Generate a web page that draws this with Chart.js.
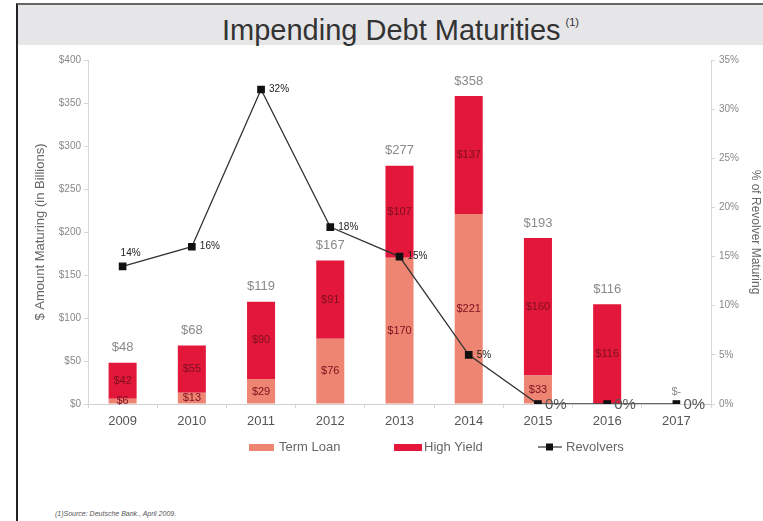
<!DOCTYPE html>
<html>
<head>
<meta charset="utf-8">
<title>Impending Debt Maturities</title>
<script src="https://cdn.jsdelivr.net/npm/chart.js@4.4.0/dist/chart.umd.min.js"></script>
<style>
  body { margin: 0; width: 763px; height: 521px; background: #fff; position: relative; overflow: hidden;
         font-family: "Liberation Sans", Arial, sans-serif; }
  #frame { position: absolute; left: 16px; top: 3px; right: 0; bottom: 0;
           border-left: 2px solid #222; border-top: 2px solid #666; }
  #head { position: absolute; left: 18px; top: 5px; right: 0; height: 40px; background: #e6e6e8;
          box-sizing: border-box; padding-left: 20px;
          text-align: center; color: #333; font-size: 29px; line-height: 34px; }
  #head sup { font-size: 11px; vertical-align: 14px; margin-left: 5px; }
  #note { position: absolute; left: 55px; top: 510px; font-size: 7px; font-style: italic; color: #555; }
  #wrap { position: absolute; left: 0; top: 0; width: 763px; height: 521px; }
</style>
</head>
<body>
<div id="frame"></div>
<div id="head">Impending Debt Maturities<sup>(1)</sup></div>
<div id="note">(1)Source: Deutsche Bank., April 2009.</div>
<div id="wrap"><canvas id="debtChart" width="763" height="521"></canvas></div>
<script>
// maturities by year, $ billions
const years = ['2009', '2010', '2011', '2012', '2013', '2014', '2015', '2016', '2017'];
const termLoan = [6, 13, 29, 76, 170, 221, 33, 0, 0];
const highYield = [42, 55, 90, 91, 107, 137, 160, 116, 0];
// share of revolvers maturing, %
const revolverPct = [14, 16, 32, 18, 15, 5, 0, 0, 0];

const TERM_COLOR = '#ee8572';
const HY_COLOR = '#e3173a';

// $ totals above bars, $ per segment inside, % beside revolver points
const labelPlugin = {
  id: 'debtLabels',
  afterDatasetsDraw(chart) {
    const ctx = chart.ctx;
    const tl = chart.getDatasetMeta(0).data;
    const hy = chart.getDatasetMeta(1).data;
    const pts = chart.getDatasetMeta(2).data;
    const y = chart.scales.y;
    ctx.save();
    ctx.textAlign = 'center';
    ctx.textBaseline = 'middle';

    // segment values
    ctx.font = '11px "Liberation Sans", Arial, sans-serif';
    ctx.fillStyle = '#7c0f1e';
    years.forEach((yr, i) => {
      if (termLoan[i] > 0) {
        ctx.fillText('$' + termLoan[i], tl[i].x, y.getPixelForValue(termLoan[i] / 2));
      }
      if (highYield[i] > 0) {
        ctx.fillText('$' + highYield[i], hy[i].x, y.getPixelForValue(termLoan[i] + highYield[i] / 2));
      }
    });

    // totals
    ctx.fillStyle = '#8a8a8a';
    years.forEach((yr, i) => {
      const total = termLoan[i] + highYield[i];
      if (total > 0) {
        ctx.font = '13px "Liberation Sans", Arial, sans-serif';
        ctx.fillText('$' + total, tl[i].x, y.getPixelForValue(total) - 15);
      } else {
        ctx.font = '11px "Liberation Sans", Arial, sans-serif';
        ctx.fillText('$-', tl[i].x, y.getPixelForValue(0) - 12);
      }
    });

    // revolver %
    revolverPct.forEach((v, i) => {
      const p = pts[i];
      if (i === 0) {
        ctx.font = '10px "Liberation Sans", Arial, sans-serif';
        ctx.fillStyle = '#222';
        ctx.textAlign = 'center';
        ctx.fillText(v + '%', p.x + 8, p.y - 13);
      } else if (v === 0) {
        ctx.font = '15px "Liberation Sans", Arial, sans-serif';
        ctx.fillStyle = '#555';
        ctx.textAlign = 'left';
        ctx.fillText(v + '%', p.x + 7, p.y + 1);
      } else {
        ctx.font = '10px "Liberation Sans", Arial, sans-serif';
        ctx.fillStyle = '#222';
        ctx.textAlign = 'left';
        ctx.fillText(v + '%', p.x + 8, p.y);
      }
    });
    ctx.restore();
  },
  // legend row under the axis
  afterDraw(chart) {
    const ctx = chart.ctx;
    const ds = chart.data.datasets;
    const ly = 447;
    ctx.save();
    ctx.font = '13px "Liberation Sans", Arial, sans-serif';
    ctx.textBaseline = 'middle';
    ctx.textAlign = 'left';

    ctx.fillStyle = ds[0].backgroundColor;
    ctx.fillRect(249, ly - 3, 25, 7);
    ctx.fillStyle = '#666';
    ctx.fillText(ds[0].label, 279, ly);

    ctx.fillStyle = ds[1].backgroundColor;
    ctx.fillRect(394, ly - 3, 28, 7);
    ctx.fillStyle = '#666';
    ctx.fillText(ds[1].label, 424, ly);

    ctx.strokeStyle = ds[2].borderColor;
    ctx.lineWidth = 1.2;
    ctx.beginPath();
    ctx.moveTo(538, ly);
    ctx.lineTo(562, ly);
    ctx.stroke();
    ctx.fillStyle = ds[2].pointBackgroundColor;
    ctx.fillRect(546, ly - 3.5, 7, 7);
    ctx.fillStyle = '#666';
    ctx.fillText(ds[2].label, 566, ly);
    ctx.restore();
  }
};

new Chart(document.getElementById('debtChart'), {
  type: 'bar',
  data: {
    labels: years,
    datasets: [
      { label: 'Term Loan', data: termLoan, backgroundColor: TERM_COLOR, stack: 'debt', order: 1,
        barPercentage: 0.405, categoryPercentage: 1 },
      { label: 'High Yield', data: highYield, backgroundColor: HY_COLOR, stack: 'debt', order: 1,
        barPercentage: 0.405, categoryPercentage: 1 },
      { type: 'line', label: 'Revolvers', data: revolverPct, yAxisID: 'y1', order: 0,
        borderColor: '#333', borderWidth: 1.3, tension: 0,
        pointStyle: 'rect', pointRadius: 4.5, pointBackgroundColor: '#111', pointBorderColor: '#111' }
    ]
  },
  options: {
    responsive: false,
    animation: false,
    devicePixelRatio: 1,
    layout: { padding: { top: 60, left: 30, right: 0, bottom: 77 } },
    plugins: { legend: { display: false }, tooltip: { enabled: false } },
    scales: {
      x: {
        stacked: true,
        afterFit(s) { s.height = 40; },
        border: { color: '#cfcfcf' },
        grid: { drawOnChartArea: false, color: '#d6d6d6', tickLength: 4 },
        ticks: { color: '#555', padding: 6, font: { size: 13, family: '"Liberation Sans", Arial, sans-serif' } }
      },
      y: {
        stacked: true,
        min: 0, max: 400,
        afterFit(s) { s.width = 58; },
        border: { color: '#d6d6d6' },
        grid: { drawOnChartArea: false, color: '#d6d6d6', tickLength: 4 },
        ticks: { stepSize: 50, padding: 3, color: '#888', callback: v => '$' + v,
                 font: { size: 10, family: '"Liberation Sans", Arial, sans-serif' } },
        title: { display: true, text: '$ Amount Maturing (in Billions)', color: '#666', padding: { top: 3, bottom: 3 },
                 font: { size: 13, family: '"Liberation Sans", Arial, sans-serif' } }
      },
      y1: {
        position: 'right',
        min: 0, max: 35,
        afterFit(s) { s.width = 52; },
        border: { color: '#d6d6d6' },
        grid: { drawOnChartArea: false, color: '#d6d6d6', tickLength: 4 },
        ticks: { stepSize: 5, padding: 4, color: '#888', callback: v => v + '%',
                 font: { size: 10, family: '"Liberation Sans", Arial, sans-serif' } },
        title: { display: true, text: '% of Revolver Maturing', color: '#666', padding: 0,
                 font: { size: 12, family: '"Liberation Sans", Arial, sans-serif' } }
      }
    }
  },
  plugins: [labelPlugin]
});
</script>
</body>
</html>
